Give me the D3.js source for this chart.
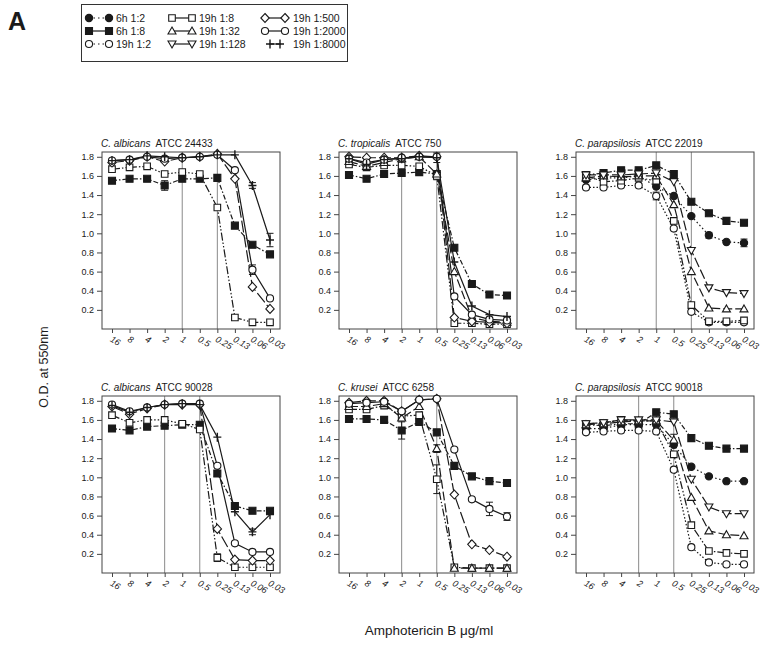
<!DOCTYPE html>
<html><head><meta charset="utf-8">
<script src="https://cdn.jsdelivr.net/npm/d3@7"></script>
<style>body{margin:0;background:#fff;} svg{display:block;font-family:Arial,"Liberation Sans",sans-serif;}</style>
</head><body>
<svg id="chart" width="775" height="649"></svg>
<script>
// ---------- data ----------
const categories = ["16","8","4","2","1","0.5","0.25","0.13","0.06","0.03"];
const yTicks = [0.2,0.4,0.6,0.8,1.0,1.2,1.4,1.6,1.8];
const seriesNames = ["6h 1:2","6h 1:8","19h 1:2","19h 1:8","19h 1:32","19h 1:128","19h 1:500","19h 1:2000","19h 1:8000"];
const seriesMarkers = ["circleFilled","squareFilled","circleOpen","squareOpen","triUp","triDown","diamond","circleOpen","plus"];
const panelSpecies = ["C. albicans","C. tropicalis","C. parapsilosis","C. albicans","C. krusei","C. parapsilosis"];
const panelStrains = ["ATCC 24433","ATCC 750","ATCC 22019","ATCC 90028","ATCC 6258","ATCC 90018"];
const panelRefLines = [["1","0.25"],["2","0.5"],["1","0.25"],["2","0.5"],["2","0.5"],["2","0.5"]];

const panel1 = [
  ["6h 1:8",     [1.55,1.57,1.57,1.50,1.57,1.57,1.58,1.08,0.88,0.78]],
  ["19h 1:8",    [1.67,1.69,1.70,1.62,1.64,1.62,1.27,0.12,0.07,0.07]],
  ["19h 1:500",  [1.74,1.76,1.80,1.75,1.79,1.80,1.83,1.57,0.44,0.21]],
  ["19h 1:2000", [1.76,1.77,1.80,1.78,1.79,1.80,1.82,1.66,0.62,0.32]],
  ["19h 1:8000", [1.76,1.77,1.81,1.80,1.79,1.80,1.82,1.82,1.50,0.93]]
];
const panel2 = [
  ["6h 1:8",     [1.61,1.57,1.62,1.63,1.64,1.62,0.85,0.47,0.36,0.35]],
  ["19h 1:8",    [1.72,1.69,1.71,1.71,1.70,1.60,0.06,0.06,0.05,0.05]],
  ["19h 1:32",   [1.75,1.70,1.74,1.78,1.80,1.62,0.60,0.12,0.08,0.07]],
  ["19h 1:500",  [1.80,1.79,1.79,1.79,1.81,1.80,0.12,0.08,0.07,0.06]],
  ["19h 1:2000", [1.78,1.74,1.77,1.79,1.80,1.80,0.34,0.15,0.10,0.09]],
  ["19h 1:8000", [1.78,1.72,1.77,1.78,1.80,1.79,0.70,0.24,0.15,0.13]]
];
const panel3 = [
  ["6h 1:2",     [1.56,1.58,1.58,1.60,1.49,1.39,1.18,0.98,0.91,0.90]],
  ["6h 1:8",     [1.61,1.63,1.66,1.66,1.71,1.62,1.33,1.21,1.13,1.11]],
  ["19h 1:2",    [1.48,1.48,1.50,1.50,1.39,1.05,0.18,0.07,0.07,0.07]],
  ["19h 1:8",    [1.60,1.54,1.55,1.58,1.55,1.13,0.25,0.08,0.08,0.09]],
  ["19h 1:32",   [1.58,1.60,1.59,1.60,1.60,1.30,0.60,0.22,0.21,0.21]],
  ["19h 1:128",  [1.61,1.61,1.61,1.62,1.63,1.54,0.82,0.43,0.38,0.37]]
];
const panel4 = [
  ["6h 1:8",     [1.51,1.49,1.53,1.54,1.55,1.55,1.04,0.70,0.65,0.65]],
  ["19h 1:8",    [1.65,1.57,1.60,1.60,1.56,1.50,0.16,0.06,0.06,0.06]],
  ["19h 1:500",  [1.74,1.66,1.72,1.76,1.76,1.76,0.46,0.14,0.13,0.13]],
  ["19h 1:2000", [1.76,1.69,1.73,1.76,1.77,1.77,1.12,0.31,0.22,0.22]],
  ["19h 1:8000", [1.75,1.68,1.73,1.76,1.77,1.76,1.42,0.64,0.43,0.61]]
];
const panel5 = [
  ["6h 1:8",     [1.61,1.61,1.60,1.49,1.58,1.47,1.12,1.01,0.96,0.94]],
  ["19h 1:8",    [1.71,1.71,1.75,1.64,1.65,0.98,0.06,0.05,0.05,0.05]],
  ["19h 1:32",   [1.74,1.74,1.77,1.62,1.74,1.30,0.05,0.05,0.05,0.05]],
  ["19h 1:500",  [1.78,1.80,1.80,1.69,1.81,1.82,0.82,0.30,0.24,0.17]],
  ["19h 1:2000", [1.77,1.78,1.79,1.69,1.81,1.82,1.29,0.77,0.67,0.59]]
];
const panel6 = [
  ["6h 1:2",     [1.51,1.51,1.55,1.55,1.55,1.34,1.11,1.01,0.96,0.96]],
  ["6h 1:8",     [1.55,1.54,1.56,1.56,1.68,1.66,1.41,1.33,1.30,1.30]],
  ["19h 1:2",    [1.47,1.48,1.49,1.49,1.48,1.08,0.27,0.11,0.09,0.09]],
  ["19h 1:8",    [1.56,1.57,1.60,1.59,1.59,1.24,0.50,0.23,0.21,0.20]],
  ["19h 1:32",   [1.55,1.56,1.58,1.59,1.59,1.39,0.79,0.44,0.40,0.39]],
  ["19h 1:128",  [1.56,1.57,1.60,1.60,1.60,1.58,0.98,0.69,0.62,0.62]]
];
const panels = [panel1,panel2,panel3,panel4,panel5,panel6];
// error bars: [panel index, series, category, half-width]
const errorBars = [
  [0,"6h 1:8","2",0.05],[0,"19h 1:8000","0.06",0.03],[0,"19h 1:8000","0.03",0.07],[0,"19h 1:2000","0.06",0.05],
  [1,"19h 1:8","0.5",0.04],[1,"19h 1:8000","0.5",0.05],
  [2,"6h 1:2","0.13",0.03],[2,"6h 1:2","0.03",0.04],[2,"19h 1:2","1",0.04],
  [3,"6h 1:8","0.25",0.03],[3,"19h 1:8","0.25",0.04],[3,"19h 1:8000","0.06",0.03],
  [4,"6h 1:8","2",0.09],[4,"19h 1:8","0.5",0.15],[4,"19h 1:32","0.5",0.04],[4,"19h 1:2000","0.06",0.07],[4,"19h 1:2000","0.03",0.04],[4,"6h 1:8","0.13",0.02],
  [5,"19h 1:32","0.5",0.06]
];

// ---------- styles ----------
const seriesDash = {"6h 1:2":"1.5,2.5","6h 1:8":"5,2,1.5,2","19h 1:2":"1.5,2","19h 1:8":"8,2,1.5,2,1.5,2",
  "19h 1:32":"9,3","19h 1:128":"10,3","19h 1:500":"12,3","19h 1:2000":null,"19h 1:8000":null};
const legendDash = {"6h 1:2":"1.5,3","19h 1:2":"1.5,3"};
const ink = "#1a1a1a";

const svg = d3.select("#chart");
svg.append("rect").attr("width",775).attr("height",649).attr("fill","#fff");

function marker(g, type, x, y) {
  const m = g.append("path").attr("transform",`translate(${x},${y})`).attr("stroke",ink).attr("stroke-width",1.1);
  let d, fill = "#fff";
  switch (type) {
    case "circleFilled": d = d3.symbol(d3.symbolCircle, 42)(); fill = ink; break;
    case "circleOpen": d = d3.symbol(d3.symbolCircle, 40)(); break;
    case "squareFilled": d = "M-3.5,-3.5H3.5V3.5H-3.5Z"; fill = ink; break;
    case "squareOpen": d = "M-3.3,-3.3H3.3V3.3H-3.3Z"; break;
    case "triUp": d = "M0,-4L4,3L-4,3Z"; break;
    case "triDown": d = "M0,4L4,-3L-4,-3Z"; break;
    case "diamond": d = "M0,-4.5L4.2,0L0,4.5L-4.2,0Z"; break;
    case "plus": d = "M-4,0H4M0,-4.5V4.5"; fill = "none"; m.attr("stroke-width",1.4); break;
  }
  m.attr("d", d).attr("fill", fill);
}

// ---------- layout ----------
const colX = [102, 339, 576];
const rowY = [152, 396];
const boxW = 178, boxH = 177;

panels.forEach((series, pi) => {
  const left = colX[pi % 3], top = rowY[Math.floor(pi / 3)];
  const right = left + boxW, bottom = top + boxH;
  const x = d3.scalePoint().domain(categories).range([left + 10, right - 10]);
  const y = d3.scaleLinear().domain([0, 1.85]).range([bottom, top]);
  const g = svg.append("g");

  panelRefLines[pi].forEach(c => {
    g.append("line").attr("x1", x(c)).attr("x2", x(c)).attr("y1", top).attr("y2", bottom)
      .attr("stroke", "#8a8a8a").attr("stroke-width", 1);
  });

  g.append("rect").attr("x", left).attr("y", top).attr("width", boxW).attr("height", boxH)
    .attr("fill", "none").attr("stroke", "#444").attr("stroke-width", 1);

  const ya = g.append("g").attr("transform", `translate(${left},0)`)
    .call(d3.axisLeft(y).tickValues(yTicks).tickFormat(d3.format(".1f")).tickSize(5).tickPadding(3));
  ya.select(".domain").remove();
  ya.selectAll("line").attr("stroke", "#444");
  ya.selectAll("text").attr("font-size", 9).attr("fill", ink).attr("font-family", "Arial, 'Liberation Sans', sans-serif");

  const xa = g.append("g").attr("transform", `translate(0,${bottom})`)
    .call(d3.axisBottom(x).tickSize(4));
  xa.select(".domain").remove();
  xa.selectAll("line").attr("stroke", "#444");
  xa.selectAll("text").attr("font-size", 9).attr("fill", ink).attr("font-style", "italic")
    .attr("font-family", "Arial, 'Liberation Sans', sans-serif")
    .attr("text-anchor", "start").attr("dy", null).attr("y", 0)
    .attr("transform", "translate(-3,12) rotate(30)");

  const t = g.append("text").attr("x", left - 1).attr("y", top - 5).attr("font-size", 10).attr("fill", ink);
  t.append("tspan").attr("font-style", "italic").text(panelSpecies[pi]);
  t.append("tspan").attr("dx", 5).text(panelStrains[pi]);

  const line = d3.line().x((d, i) => x(categories[i])).y(d => y(d));
  series.forEach(([name, vals]) => {
    g.append("path").attr("d", line(vals)).attr("fill", "none").attr("stroke", ink)
      .attr("stroke-width", 1.2).attr("stroke-dasharray", seriesDash[name]);
  });

  errorBars.filter(e => e[0] === pi).forEach(([, name, cat, err]) => {
    const vals = series.find(s => s[0] === name)[1];
    const v = vals[categories.indexOf(cat)];
    const cx = x(cat);
    const eg = g.append("g").attr("stroke", ink).attr("stroke-width", 1);
    eg.append("line").attr("x1", cx).attr("x2", cx).attr("y1", y(v - err)).attr("y2", y(v + err));
    eg.append("line").attr("x1", cx - 3.5).attr("x2", cx + 3.5).attr("y1", y(v - err)).attr("y2", y(v - err));
    eg.append("line").attr("x1", cx - 3.5).attr("x2", cx + 3.5).attr("y1", y(v + err)).attr("y2", y(v + err));
  });

  series.forEach(([name, vals]) => {
    const type = seriesMarkers[seriesNames.indexOf(name)];
    vals.forEach((v, i) => marker(g, type, x(categories[i]), y(v)));
  });
});

// ---------- legend ----------
const lg = svg.append("g");
lg.append("rect").attr("x", 81.5).attr("y", 4.5).attr("width", 266).attr("height", 57)
  .attr("fill", "none").attr("stroke", "#333").attr("stroke-width", 1);
const legCols = [[89, 109, 116], [172, 192, 199], [265, 285, 293]];
const legRows = [18, 31, 44];
seriesNames.forEach((name, i) => {
  const c = legCols[Math.floor(i / 3)], ry = legRows[i % 3];
  const type = seriesMarkers[i];
  if (type === "plus") {
    lg.append("line").attr("x1", c[0] + 4).attr("x2", c[1] - 4).attr("y1", ry).attr("y2", ry).attr("stroke", ink).attr("stroke-width", 1.2);
    marker(lg, type, c[0] + 5, ry);
    marker(lg, type, c[1] - 5, ry);
  } else {
    lg.append("line").attr("x1", c[0]).attr("x2", c[1]).attr("y1", ry).attr("y2", ry).attr("stroke", ink)
      .attr("stroke-width", 1.2).attr("stroke-dasharray", legendDash[name] || null);
    marker(lg, type, c[0], ry);
    marker(lg, type, c[1], ry);
  }
  lg.append("text").attr("x", c[2]).attr("y", ry + 3.5).attr("font-size", 10.5).attr("fill", ink).text(name);
});

svg.append("text").attr("x", 8).attr("y", 30).attr("font-size", 25).attr("font-weight", "bold").attr("fill", ink).text("A");

svg.append("text").attr("transform", "translate(48,367) rotate(-90)").attr("text-anchor", "middle")
  .attr("font-size", 12.5).attr("fill", ink).text("O.D. at 550nm");
svg.append("text").attr("x", 429).attr("y", 635).attr("text-anchor", "middle")
  .attr("font-size", 13.5).attr("fill", ink).text("Amphotericin B \u03bcg/ml");
</script>
</body></html>
